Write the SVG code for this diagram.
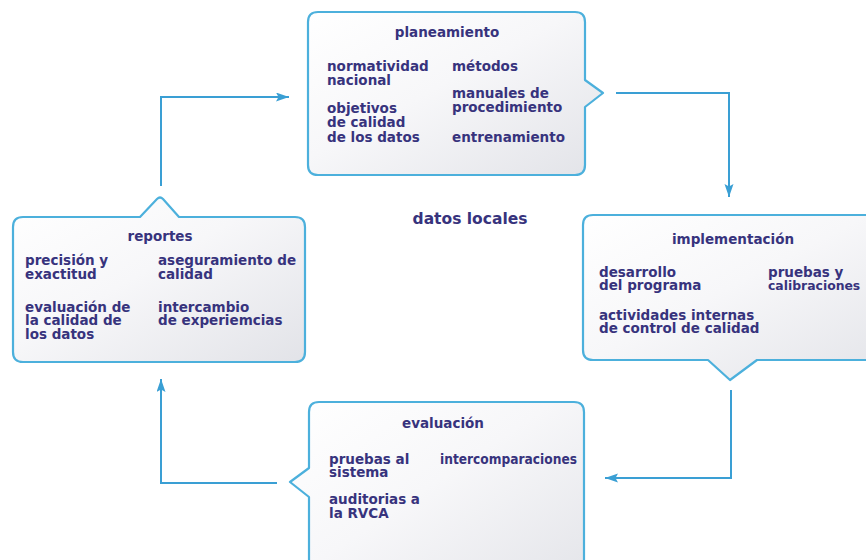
<svg xmlns="http://www.w3.org/2000/svg" width="866" height="560" viewBox="0 0 866 560">
<defs>
<linearGradient id="g" x1="0" y1="0" x2="1" y2="1">
<stop offset="0" stop-color="#ffffff"/>
<stop offset="0.45" stop-color="#f7f7f9"/>
<stop offset="1" stop-color="#e2e3e8"/>
</linearGradient>
<marker id="ah" markerUnits="userSpaceOnUse" markerWidth="14" markerHeight="10" refX="13" refY="4.5" orient="auto">
<path d="M0,0 L13,4.5 L0,9 L2.5,4.5 Z" fill="#3a9fd4"/>
</marker>
<style>
.box{fill:url(#g);stroke:#4cb0dc;stroke-width:2.2;stroke-linejoin:round}
.t{font-family:"DejaVu Sans",Verdana,sans-serif;font-weight:bold;font-size:13.5px;fill:#37337d}
.h{text-anchor:middle}
.con{fill:none;stroke:#3a9fd4;stroke-width:2}
</style>
</defs>
<rect width="866" height="560" fill="#ffffff"/>
<g id="connectors">
<path class="con" d="M161,186 V97 H289" marker-end="url(#ah)"/>
<path class="con" d="M616,93 H729 V197" marker-end="url(#ah)"/>
<path class="con" d="M731,390 V478 H605" marker-end="url(#ah)"/>
<path class="con" d="M277,483 H161 V379" marker-end="url(#ah)"/>
</g>
<g id="planeamiento">
<path class="box" d="M318,12 H575 Q585,12 585,22 V80 L603,93 L585,107 V165 Q585,175 575,175 H318 Q308,175 308,165 V22 Q308,12 318,12 Z"/>
<text class="t h" x="447" y="37">planeamiento</text>
<text class="t" x="327" y="71">normatividad</text>
<text class="t" x="327" y="85">nacional</text>
<text class="t" x="327" y="113">objetivos</text>
<text class="t" x="327" y="127">de calidad</text>
<text class="t" x="327" y="142">de los datos</text>
<text class="t" x="452" y="71">métodos</text>
<text class="t" x="452" y="98">manuales de</text>
<text class="t" x="452" y="112">procedimiento</text>
<text class="t" x="452" y="142">entrenamiento</text>
</g>
<g id="reportes">
<path class="box" d="M23,217 H140 L157,199 Q160,196 163,199 L179,217 H295 Q305,217 305,227 V352 Q305,362 295,362 H23 Q13,362 13,352 V227 Q13,217 23,217 Z"/>
<text class="t h" x="160" y="241">reportes</text>
<text class="t" x="25" y="265">precisión y</text>
<text class="t" x="25" y="279">exactitud</text>
<text class="t" x="25" y="312">evaluación de</text>
<text class="t" x="25" y="325">la calidad de</text>
<text class="t" x="25" y="339">los datos</text>
<text class="t" x="158" y="265">aseguramiento de</text>
<text class="t" x="158" y="279">calidad</text>
<text class="t" x="158" y="312">intercambio</text>
<text class="t" x="158" y="325">de experiemcias</text>
</g>
<g id="implementacion">
<path class="box" d="M593,215 H900 V360 H757 L730,380 L708,360 H593 Q583,360 583,350 V225 Q583,215 593,215 Z"/>
<text class="t h" x="733" y="244">implementación</text>
<text class="t" x="599" y="277">desarrollo</text>
<text class="t" x="599" y="290">del programa</text>
<text class="t" x="599" y="320">actividades internas</text>
<text class="t" x="599" y="333">de control de calidad</text>
<text class="t" x="768" y="277">pruebas y</text>
<text class="t" x="768" y="290" style="font-size:12.4px">calibraciones</text>
</g>
<g id="evaluacion">
<path class="box" d="M319,402 H574 Q584,402 584,412 V600 H309 V497 L290,482 L309,468 V412 Q309,402 319,402 Z"/>
<text class="t h" x="443" y="428">evaluación</text>
<text class="t" x="329" y="464">pruebas al</text>
<text class="t" x="329" y="477">sistema</text>
<text class="t" x="329" y="504">auditorias a</text>
<text class="t" x="329" y="518">la RVCA</text>
<text class="t" x="440" y="464" textLength="137" lengthAdjust="spacingAndGlyphs">intercomparaciones</text>
</g>
<g id="datos-locales">
<text class="t" x="470" y="224" text-anchor="middle" style="font-size:15.5px">datos locales</text>
</g>
</svg>
